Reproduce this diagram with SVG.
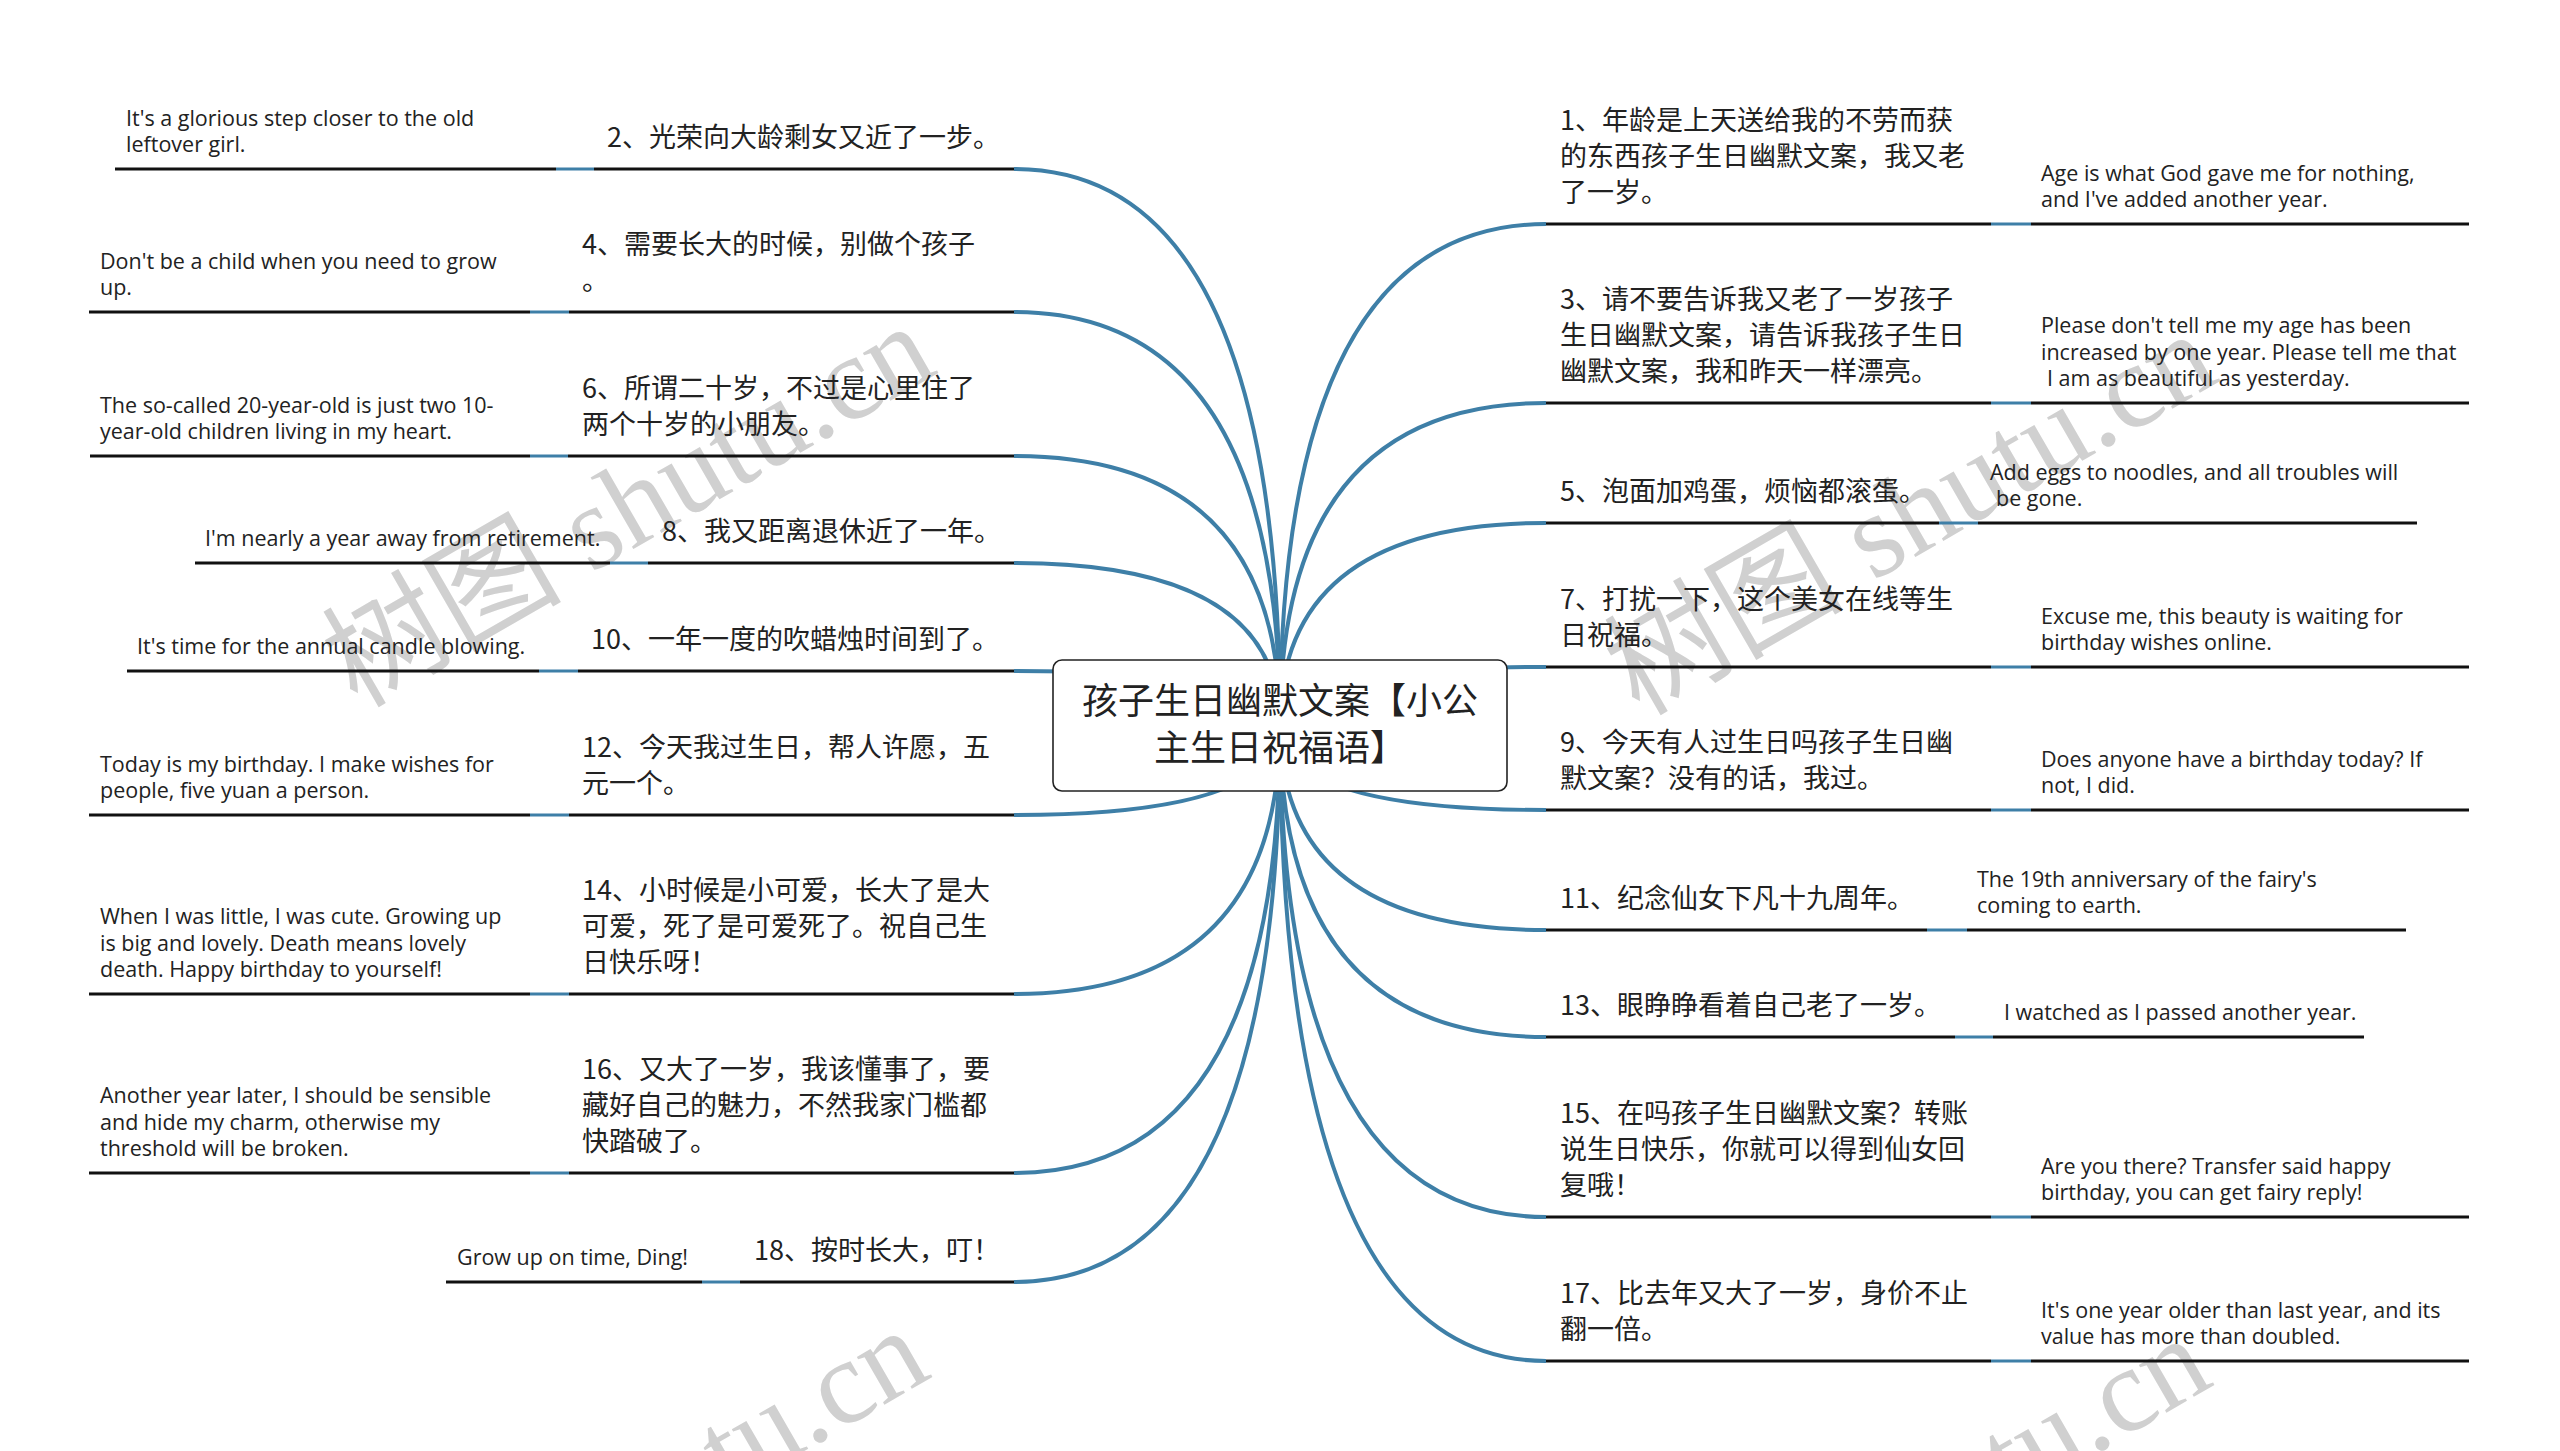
<svg xmlns="http://www.w3.org/2000/svg" width="2560" height="1451" viewBox="0 0 2560 1451">
<style>
.cn{font-family:"Noto Sans CJK SC","Noto Sans",sans-serif;font-size:27px;fill:#222}
.en{font-family:"Open Sans","Liberation Sans",sans-serif;font-size:21.5px;fill:#222}
.title{font-family:"Noto Sans CJK SC","Noto Sans",sans-serif;font-size:36px;fill:#222;text-anchor:middle}
.ul{stroke:#111;stroke-width:3;fill:none}
.conn{stroke:#3e7fa7;stroke-width:4;fill:none}
.seg{stroke:#3e7fa7;stroke-width:3;fill:none}
.wm{font-family:"Liberation Serif","Noto Sans CJK SC",serif;font-size:120px;fill:#d0d0d0;text-anchor:end}
</style>
<rect width="2560" height="1451" fill="#fff"/>
<g id="watermarks">
<text class="wm" transform="translate(940,372) rotate(-30)">树图 shutu.cn</text>
<text class="wm" transform="translate(2222,380) rotate(-30)">树图 shutu.cn</text>
<text class="wm" transform="translate(934,1376) rotate(-30)">树图 shutu.cn</text>
<text class="wm" transform="translate(2216,1384) rotate(-30)">树图 shutu.cn</text>
</g>
<g id="connectors">
<path class="conn" d="M1280 725 Q1280 169 1014 169"/>
<path class="conn" d="M1280 725 Q1280 312 1014 312"/>
<path class="conn" d="M1280 725 Q1280 456 1014 456"/>
<path class="conn" d="M1280 725 Q1280 563 1014 563"/>
<path class="conn" d="M1280 725 Q1280 671 1014 671"/>
<path class="conn" d="M1280 725 Q1280 815 1014 815"/>
<path class="conn" d="M1280 725 Q1280 994 1014 994"/>
<path class="conn" d="M1280 725 Q1280 1173 1014 1173"/>
<path class="conn" d="M1280 725 Q1280 1282 1014 1282"/>
<path class="conn" d="M1280 725 Q1280 224 1546 224"/>
<path class="conn" d="M1280 725 Q1280 403 1546 403"/>
<path class="conn" d="M1280 725 Q1280 523 1546 523"/>
<path class="conn" d="M1280 725 Q1280 667 1546 667"/>
<path class="conn" d="M1280 725 Q1280 810 1546 810"/>
<path class="conn" d="M1280 725 Q1280 930 1546 930"/>
<path class="conn" d="M1280 725 Q1280 1037 1546 1037"/>
<path class="conn" d="M1280 725 Q1280 1217 1546 1217"/>
<path class="conn" d="M1280 725 Q1280 1361 1546 1361"/>
<path class="seg" d="M556 169H594M530 312H569M530 456H568M610 563H648M539 671H578M530 815H569M530 994H569M530 1173H569M702 1282H740"/>
<path class="seg" d="M1991 224H2031M1991 403H2031M1939 523H1978M1991 667H2031M1991 810H2031M1927 930H1967M1955 1037H1993M1991 1217H2031M1991 1361H2031"/>
</g>
<g id="root">
<rect x="1053" y="660" width="454" height="131" rx="9" fill="#fff" stroke="#222" stroke-width="1.6"/>
<text class="title" x="1280" y="714">孩子生日幽默文案【小公</text>
<text class="title" x="1280" y="761">主生日祝福语】</text>
</g>
<g id="n1"><path class="ul" d="M1546 224H1991"/><text class="cn" x="1560"><tspan x="1560" y="129.5">1、年龄是上天送给我的不劳而获</tspan><tspan x="1560" y="165.5">的东西孩子生日幽默文案，我又老</tspan><tspan x="1560" y="201.5">了一岁。</tspan></text></g>
<g id="n1e"><path class="ul" d="M2031 224H2469"/><text class="en"><tspan x="2041" y="180.5">Age is what God gave me for nothing,</tspan><tspan x="2041" y="207">and I've added another year.</tspan></text></g>
<g id="n3"><path class="ul" d="M1546 403H1991"/><text class="cn"><tspan x="1560" y="308.5">3、请不要告诉我又老了一岁孩子</tspan><tspan x="1560" y="344.5">生日幽默文案，请告诉我孩子生日</tspan><tspan x="1560" y="380.5">幽默文案，我和昨天一样漂亮。</tspan></text></g>
<g id="n3e"><path class="ul" d="M2031 403H2469"/><text class="en"><tspan x="2041" y="333">Please don't tell me my age has been</tspan><tspan x="2041" y="359.5">increased by one year. Please tell me that</tspan><tspan x="2047" y="386">I am as beautiful as yesterday.</tspan></text></g>
<g id="n5"><path class="ul" d="M1546 523H1939"/><text class="cn" x="1560" y="500.5">5、泡面加鸡蛋，烦恼都滚蛋。</text></g>
<g id="n5e"><path class="ul" d="M1978 523H2417"/><text class="en"><tspan x="1990" y="479.5">Add eggs to noodles, and all troubles will</tspan><tspan x="1996" y="506">be gone.</tspan></text></g>
<g id="n7"><path class="ul" d="M1546 667H1991"/><text class="cn"><tspan x="1560" y="608.5">7、打扰一下，这个美女在线等生</tspan><tspan x="1560" y="644.5">日祝福。</tspan></text></g>
<g id="n7e"><path class="ul" d="M2031 667H2469"/><text class="en"><tspan x="2041" y="623.5">Excuse me, this beauty is waiting for</tspan><tspan x="2041" y="650">birthday wishes online.</tspan></text></g>
<g id="n9"><path class="ul" d="M1546 810H1991"/><text class="cn"><tspan x="1560" y="751.5">9、今天有人过生日吗孩子生日幽</tspan><tspan x="1560" y="787.5">默文案？没有的话，我过。</tspan></text></g>
<g id="n9e"><path class="ul" d="M2031 810H2469"/><text class="en"><tspan x="2041" y="766.5">Does anyone have a birthday today? If</tspan><tspan x="2041" y="793">not, I did.</tspan></text></g>
<g id="n11"><path class="ul" d="M1546 930H1927"/><text class="cn" x="1560" y="907.5">11、纪念仙女下凡十九周年。</text></g>
<g id="n11e"><path class="ul" d="M1967 930H2406"/><text class="en"><tspan x="1977" y="886.5">The 19th anniversary of the fairy's</tspan><tspan x="1977" y="913">coming to earth.</tspan></text></g>
<g id="n13"><path class="ul" d="M1546 1037H1955"/><text class="cn" x="1560" y="1014.5">13、眼睁睁看着自己老了一岁。</text></g>
<g id="n13e"><path class="ul" d="M1993 1037H2364"/><text class="en" x="2004" y="1020">I watched as I passed another year.</text></g>
<g id="n15"><path class="ul" d="M1546 1217H1991"/><text class="cn"><tspan x="1560" y="1122.5">15、在吗孩子生日幽默文案？转账</tspan><tspan x="1560" y="1158.5">说生日快乐，你就可以得到仙女回</tspan><tspan x="1560" y="1194.5">复哦！</tspan></text></g>
<g id="n15e"><path class="ul" d="M2031 1217H2469"/><text class="en"><tspan x="2041" y="1173.5">Are you there? Transfer said happy</tspan><tspan x="2041" y="1200">birthday, you can get fairy reply!</tspan></text></g>
<g id="n17"><path class="ul" d="M1546 1361H1991"/><text class="cn"><tspan x="1560" y="1302.5">17、比去年又大了一岁，身价不止</tspan><tspan x="1560" y="1338.5">翻一倍。</tspan></text></g>
<g id="n17e"><path class="ul" d="M2031 1361H2469"/><text class="en"><tspan x="2041" y="1317.5">It's one year older than last year, and its</tspan><tspan x="2041" y="1344">value has more than doubled.</tspan></text></g>
<g id="n2"><path class="ul" d="M594 169H1014"/><text class="cn" x="607" y="146.5">2、光荣向大龄剩女又近了一步。</text></g>
<g id="n2e"><path class="ul" d="M115 169H556"/><text class="en"><tspan x="126" y="125.5">It's a glorious step closer to the old</tspan><tspan x="126" y="152">leftover girl.</tspan></text></g>
<g id="n4"><path class="ul" d="M569 312H1014"/><text class="cn"><tspan x="582" y="253.5">4、需要长大的时候，别做个孩子</tspan><tspan x="582" y="289.5">。</tspan></text></g>
<g id="n4e"><path class="ul" d="M89 312H530"/><text class="en"><tspan x="100" y="268.5">Don't be a child when you need to grow</tspan><tspan x="100" y="295">up.</tspan></text></g>
<g id="n6"><path class="ul" d="M568 456H1014"/><text class="cn"><tspan x="582" y="397.5">6、所谓二十岁，不过是心里住了</tspan><tspan x="582" y="433.5">两个十岁的小朋友。</tspan></text></g>
<g id="n6e"><path class="ul" d="M90 456H530"/><text class="en"><tspan x="100" y="412.5">The so-called 20-year-old is just two 10-</tspan><tspan x="100" y="439">year-old children living in my heart.</tspan></text></g>
<g id="n8"><path class="ul" d="M648 563H1014"/><text class="cn" x="662" y="540.5">8、我又距离退休近了一年。</text></g>
<g id="n8e"><path class="ul" d="M195 563H610"/><text class="en" x="205" y="546">I'm nearly a year away from retirement.</text></g>
<g id="n10"><path class="ul" d="M578 671H1014"/><text class="cn" x="591" y="648.5">10、一年一度的吹蜡烛时间到了。</text></g>
<g id="n10e"><path class="ul" d="M127 671H539"/><text class="en" x="137" y="654">It's time for the annual candle blowing.</text></g>
<g id="n12"><path class="ul" d="M569 815H1014"/><text class="cn"><tspan x="582" y="756.5">12、今天我过生日，帮人许愿，五</tspan><tspan x="582" y="792.5">元一个。</tspan></text></g>
<g id="n12e"><path class="ul" d="M89 815H530"/><text class="en"><tspan x="100" y="771.5">Today is my birthday. I make wishes for</tspan><tspan x="100" y="798">people, five yuan a person.</tspan></text></g>
<g id="n14"><path class="ul" d="M569 994H1014"/><text class="cn"><tspan x="582" y="899.5">14、小时候是小可爱，长大了是大</tspan><tspan x="582" y="935.5">可爱，死了是可爱死了。祝自己生</tspan><tspan x="582" y="971.5">日快乐呀！</tspan></text></g>
<g id="n14e"><path class="ul" d="M89 994H530"/><text class="en"><tspan x="100" y="924">When I was little, I was cute. Growing up</tspan><tspan x="100" y="950.5">is big and lovely. Death means lovely</tspan><tspan x="100" y="977">death. Happy birthday to yourself!</tspan></text></g>
<g id="n16"><path class="ul" d="M569 1173H1014"/><text class="cn"><tspan x="582" y="1078.5">16、又大了一岁，我该懂事了，要</tspan><tspan x="582" y="1114.5">藏好自己的魅力，不然我家门槛都</tspan><tspan x="582" y="1150.5">快踏破了。</tspan></text></g>
<g id="n16e"><path class="ul" d="M89 1173H530"/><text class="en"><tspan x="100" y="1103">Another year later, I should be sensible</tspan><tspan x="100" y="1129.5">and hide my charm, otherwise my</tspan><tspan x="100" y="1156">threshold will be broken.</tspan></text></g>
<g id="n18"><path class="ul" d="M740 1282H1014"/><text class="cn" x="754" y="1259.5">18、按时长大，叮！</text></g>
<g id="n18e"><path class="ul" d="M446 1282H702"/><text class="en" x="457" y="1265">Grow up on time, Ding!</text></g>
</svg>
